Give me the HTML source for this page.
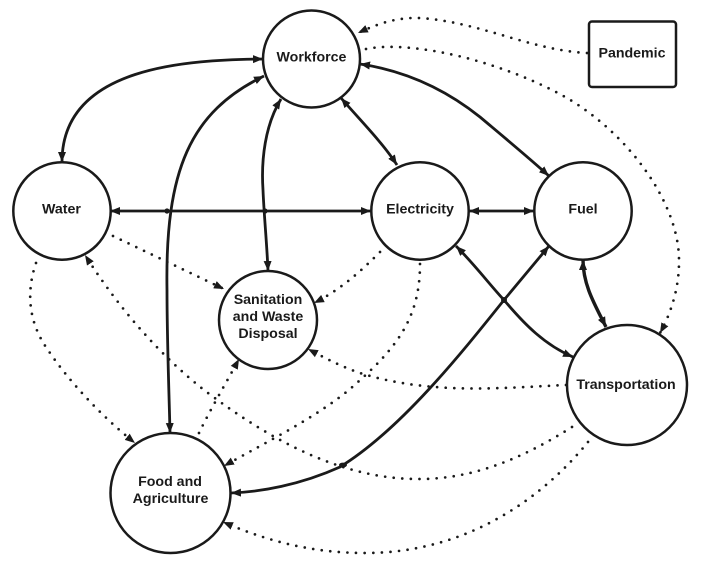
<!DOCTYPE html>
<html>
<head>
<meta charset="utf-8">
<style>
html,body{margin:0;padding:0;background:#fff;width:708px;height:574px;overflow:hidden}
svg{display:block}
text{font-family:"Liberation Sans",sans-serif;font-weight:700;font-size:14.2px;fill:#1a1a1a;text-anchor:middle}
.n{fill:#fff;stroke:#1a1a1a;stroke-width:2.5}
.s{fill:none;stroke:#1a1a1a;stroke-width:2.8}
.d{fill:none;stroke:#1a1a1a;stroke-width:2.7;stroke-linecap:round;stroke-dasharray:0 8.6}
</style>
</head>
<body>
<svg width="708" height="574" viewBox="0 0 708 574" xmlns="http://www.w3.org/2000/svg">
<defs>
<marker id="a" viewBox="0 0 10 8" refX="10" refY="4" markerWidth="10" markerHeight="8.5" markerUnits="userSpaceOnUse" orient="auto-start-reverse">
<path d="M0,0 L10,4 L0,8 Z" fill="#1a1a1a"/>
</marker>
</defs>

<!-- solid connectors -->
<path class="s" marker-start="url(#a)" marker-end="url(#a)" d="M263,59 C190,60 62,65 62,162"/>
<path class="s" marker-start="url(#a)" marker-end="url(#a)" d="M264,76 C190,112 165,170 167,290 C167,340 169,390 170,433"/>
<path class="s" marker-start="url(#a)" marker-end="url(#a)" d="M281,99 C265,125 261,160 263,190 C264,215 267,245 268,271"/>
<path class="s" marker-start="url(#a)" marker-end="url(#a)" d="M341,98 C360,120 382,142 397,165"/>
<path class="s" marker-start="url(#a)" marker-end="url(#a)" d="M360,64 C400,70 440,85 480,117 C505,138 528,157 549,176"/>
<path class="s" marker-start="url(#a)" marker-end="url(#a)" d="M110,211 L371,211"/>
<path class="s" marker-start="url(#a)" marker-end="url(#a)" d="M469,211 L534,211"/>
<path class="s" marker-start="url(#a)" marker-end="url(#a)" d="M456,246 C475,265 490,285 504,300 C525,325 545,345 573,357"/>
<path class="s" marker-start="url(#a)" marker-end="url(#a)" d="M549,246 L504,300 C460,355 400,430 340,467 C300,485 260,492 231,493"/>
<path class="s" marker-start="url(#a)" marker-end="url(#a)" style="stroke-width:3.4" d="M583,260 C583,285 595,305 606,327"/>

<!-- crossing dots -->
<circle cx="167" cy="211" r="2.6" fill="#1a1a1a"/>
<circle cx="265" cy="211" r="2.6" fill="#1a1a1a"/>
<circle cx="504" cy="300" r="3" fill="#1a1a1a"/>
<ellipse cx="343" cy="465" rx="4" ry="2.4" fill="#1a1a1a"/>

<!-- dotted connectors -->
<path class="d" marker-end="url(#a)" d="M587,53 C530,50 480,22 420,18 C395,17 375,25 358,33"/>
<path class="d" marker-end="url(#a)" d="M366,49 C410,40 500,60 567,98 C630,135 680,205 679,262 C679,290 670,315 660,333"/>
<path class="d" marker-end="url(#a)" d="M113,236 L224,289"/>
<path class="d" marker-end="url(#a)" d="M380,252 C360,272 340,290 314,303"/>
<path class="d" marker-end="url(#a)" d="M420,264 C420,320 395,350 350,389 C315,418 270,440 224,466"/>
<path class="d" marker-end="url(#a)" d="M566,385 C500,388 430,395 360,373 C340,366 325,358 308,349"/>
<path class="d" marker-end="url(#a)" d="M199,433 C210,410 225,385 239,359"/>
<path class="d" marker-end="url(#a)" d="M36,263 C25,295 30,325 48,350 C68,380 100,415 135,443"/>
<path class="d" marker-end="url(#a)" d="M572,427 C520,460 470,480 415,479 C340,478 270,440 204,390 C160,355 120,310 85,255"/>
<path class="d" marker-end="url(#a)" d="M588,442 C545,495 470,553 365,553 C310,553 265,540 223,522"/>

<!-- nodes -->
<circle class="n" cx="311.5" cy="59" r="48.5"/>
<circle class="n" cx="62" cy="211" r="48.7"/>
<circle class="n" cx="420" cy="211" r="48.7"/>
<circle class="n" cx="583" cy="211" r="48.7"/>
<circle class="n" cx="268" cy="320" r="49"/>
<circle class="n" cx="627" cy="385" r="60"/>
<circle class="n" cx="170.5" cy="493" r="60"/>
<rect class="n" x="589" y="21.5" width="87" height="65.5" rx="3"/>

<!-- labels -->
<text x="311.5" y="61.5">Workforce</text>
<text x="61.5" y="213.5">Water</text>
<text x="420" y="213.5">Electricity</text>
<text x="583" y="213.5">Fuel</text>
<text x="632" y="57.5">Pandemic</text>
<text x="268" y="304">Sanitation</text>
<text x="268" y="321">and Waste</text>
<text x="268" y="338">Disposal</text>
<text x="626" y="389">Transportation</text>
<text x="170" y="486">Food and</text>
<text x="170.5" y="503">Agriculture</text>
</svg>
</body>
</html>
